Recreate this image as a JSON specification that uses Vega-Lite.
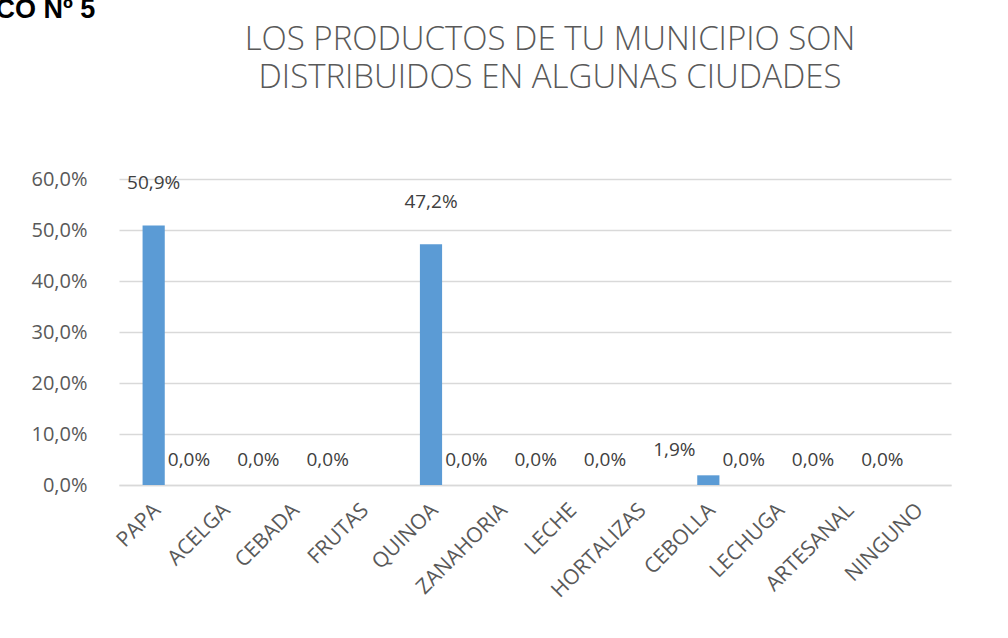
{
  "$schema": "https://vega.github.io/schema/vega-lite/v6.json",
  "width": 832,
  "height": 306,
  "autosize": {"type": "none"},
  "padding": {"left": 119, "top": 179, "right": 57, "bottom": 153},
  "background": "white",
  "title": {
    "text": ["LOS PRODUCTOS DE TU MUNICIPIO  SON", "DISTRIBUIDOS EN ALGUNAS CIUDADES"],
    "font": "Open Sans",
    "fontSize": 33,
    "fontWeight": 300,
    "color": "#595959",
    "anchor": "middle",
    "dx": 15,
    "lineHeight": 38,
    "offset": -100
  },
  "config": {
    "locale": {"number": {"decimal": ",", "thousands": ".", "grouping": [3], "currency": ["", " €"]}},
    "view": {"stroke": null},
    "font": "Open Sans"
  },
  "data": {
    "values": [
      {"producto": "PAPA", "valor": 0.509},
      {"producto": "ACELGA", "valor": 0},
      {"producto": "CEBADA", "valor": 0},
      {"producto": "FRUTAS", "valor": 0},
      {"producto": "QUINOA", "valor": 0.472},
      {"producto": "ZANAHORIA", "valor": 0},
      {"producto": "LECHE", "valor": 0},
      {"producto": "HORTALIZAS", "valor": 0},
      {"producto": "CEBOLLA", "valor": 0.019},
      {"producto": "LECHUGA", "valor": 0},
      {"producto": "ARTESANAL", "valor": 0},
      {"producto": "NINGUNO", "valor": 0}
    ]
  },
  "encoding": {
    "x": {
      "field": "producto",
      "type": "nominal",
      "sort": null,
      "scale": {"paddingInner": 0.68, "paddingOuter": 0.34},
      "axis": {
        "title": null,
        "labelAngle": -45,
        "labelFont": "Open Sans",
        "labelFontSize": 21,
        "labelColor": "#595959",
        "labelPadding": 14,
        "labelOffset": -4,
        "ticks": false,
        "domainColor": "#d9d9d9",
        "domainWidth": 1.5,
        "grid": false
      }
    },
    "y": {
      "field": "valor",
      "type": "quantitative",
      "scale": {"domain": [0, 0.6], "nice": false},
      "axis": {
        "format": ".1%",
        "values": [0, 0.1, 0.2, 0.3, 0.4, 0.5, 0.6],
        "labelOverlap": false,
        "title": "GRÁFICO Nº 5",
        "titleAngle": 0,
        "titleX": -208,
        "titleY": -162,
        "titleAlign": "left",
        "titleBaseline": "alphabetic",
        "titleFont": "Liberation Sans",
        "titleFontSize": 27,
        "titleFontWeight": "bold",
        "titleColor": "#000000",
        "labelFont": "Open Sans",
        "labelFontSize": 20,
        "labelColor": "#595959",
        "labelPadding": 32,
        "ticks": false,
        "domain": false,
        "gridColor": "#d9d9d9",
        "gridWidth": 1.5
      }
    }
  },
  "layer": [
    {"mark": {"type": "bar", "color": "#5B9BD5"}},
    {
      "transform": [{"filter": "datum.valor >= 0.1"}],
      "mark": {"type": "text", "font": "Open Sans", "fontSize": 19, "color": "#404040", "dy": -42},
      "encoding": {"text": {"field": "valor", "type": "quantitative", "format": ".1%"}}
    },
    {
      "transform": [{"filter": "datum.valor < 0.1"}],
      "mark": {"type": "text", "font": "Open Sans", "fontSize": 19, "color": "#404040", "dy": -25, "dx": -34},
      "encoding": {"text": {"field": "valor", "type": "quantitative", "format": ".1%"}}
    }
  ]
}
